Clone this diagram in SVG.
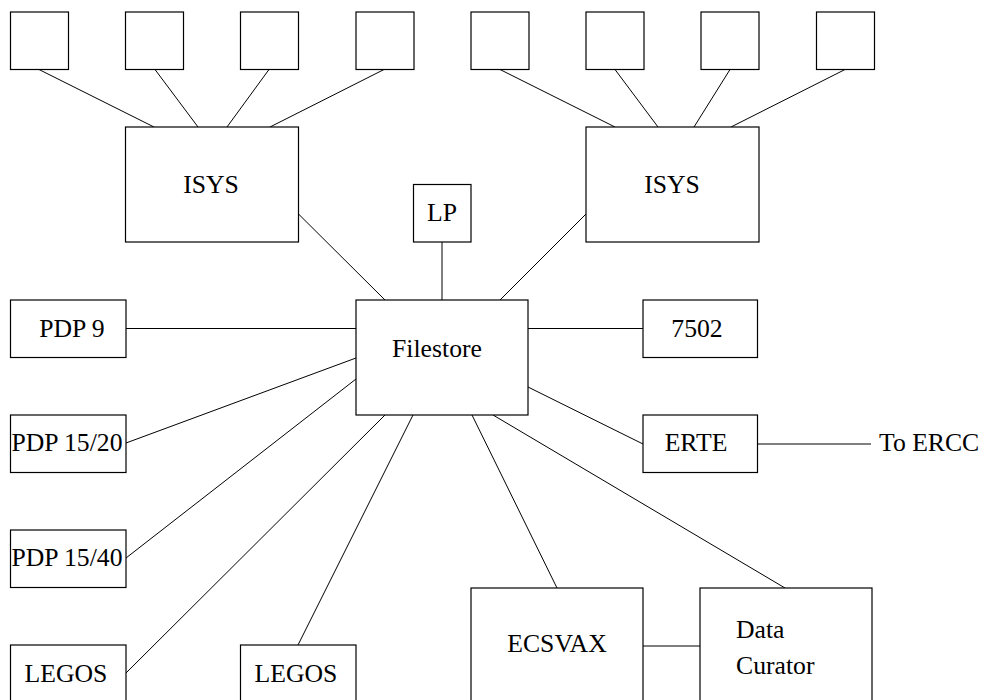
<svg xmlns="http://www.w3.org/2000/svg" width="986" height="700" viewBox="0 0 986 700">
<style>
rect{fill:#fff;stroke:#000;stroke-width:1.2}
line{stroke:#000;stroke-width:1}
.c{text-anchor:middle}
</style>
<rect x="0" y="0" width="986" height="700" style="fill:#fff;stroke:none"/>
<g id="connectors">
<line x1="39" y1="69.5" x2="154" y2="127"/>
<line x1="155" y1="69.5" x2="198" y2="127"/>
<line x1="269" y1="69.5" x2="227" y2="127"/>
<line x1="384" y1="69.5" x2="270" y2="127"/>
<line x1="500" y1="69.5" x2="615" y2="127"/>
<line x1="615" y1="69.5" x2="658" y2="127"/>
<line x1="730" y1="69.5" x2="694" y2="127"/>
<line x1="845" y1="69.5" x2="731" y2="127"/>
<line x1="298.5" y1="214" x2="385" y2="300"/>
<line x1="442" y1="242" x2="442" y2="300"/>
<line x1="586" y1="214" x2="500" y2="300"/>
<line x1="126" y1="328.5" x2="356" y2="328.5"/>
<line x1="126" y1="443" x2="356" y2="358"/>
<line x1="126" y1="558" x2="356" y2="379"/>
<line x1="126" y1="673" x2="385" y2="415"/>
<line x1="298" y1="645" x2="413" y2="415"/>
<line x1="472" y1="415" x2="557" y2="588"/>
<line x1="493" y1="415" x2="785" y2="588"/>
<line x1="528" y1="328.5" x2="643" y2="328.5"/>
<line x1="528" y1="387" x2="643" y2="444"/>
<line x1="757" y1="444" x2="871" y2="444"/>
<line x1="643" y1="646" x2="700" y2="646"/>
</g>
<g font-family="'Liberation Serif', 'Times New Roman', serif" font-size="25.7" fill="#000">
<g id="t1"><rect x="10.5" y="12" width="58" height="57.5"/></g>
<g id="t2"><rect x="125.5" y="12" width="58" height="57.5"/></g>
<g id="t3"><rect x="240.5" y="12" width="58" height="57.5"/></g>
<g id="t4"><rect x="356" y="12" width="58" height="57.5"/></g>
<g id="t5"><rect x="471" y="12" width="58" height="57.5"/></g>
<g id="t6"><rect x="586" y="12" width="58" height="57.5"/></g>
<g id="t7"><rect x="701" y="12" width="58" height="57.5"/></g>
<g id="t8"><rect x="816.5" y="12" width="58" height="57.5"/></g>
<g id="isys1"><rect x="125.5" y="127" width="173" height="115"/><text class="c" x="211" y="193">ISYS</text></g>
<g id="isys2"><rect x="586" y="127" width="173" height="115"/><text class="c" x="672" y="193">ISYS</text></g>
<g id="lp"><rect x="413.5" y="184.5" width="57.5" height="57.5"/><text class="c" x="442" y="221">LP</text></g>
<g id="filestore"><rect x="356" y="300" width="172" height="115"/><text class="c" x="437" y="357">Filestore</text></g>
<g id="pdp9"><rect x="10.5" y="300" width="115.5" height="57.5"/><text class="c" x="72" y="337">PDP 9</text></g>
<g id="pdp1520"><rect x="10.5" y="415" width="115.5" height="57.5"/><text class="c" x="67" y="451">PDP 15/20</text></g>
<g id="pdp1540"><rect x="10.5" y="530" width="115.5" height="57.5"/><text class="c" x="67" y="566">PDP 15/40</text></g>
<g id="legos1"><rect x="10.5" y="645" width="115.5" height="60"/><text class="c" x="66" y="682">LEGOS</text></g>
<g id="legos2"><rect x="240.5" y="645" width="115.5" height="60"/><text class="c" x="296" y="682">LEGOS</text></g>
<g id="n7502"><rect x="643" y="300" width="114.5" height="57.5"/><text class="c" x="697" y="337">7502</text></g>
<g id="erte"><rect x="643" y="415" width="114.5" height="57.5"/><text class="c" x="696" y="451">ERTE</text></g>
<g id="toercc"><text x="879" y="451">To ERCC</text></g>
<g id="ecsvax"><rect x="471" y="588" width="172" height="120"/><text class="c" x="557" y="652">ECSVAX</text></g>
<g id="curator"><rect x="700" y="588" width="172" height="120"/><text x="736" y="638">Data</text><text x="736" y="674">Curator</text></g>
</g>
</svg>
